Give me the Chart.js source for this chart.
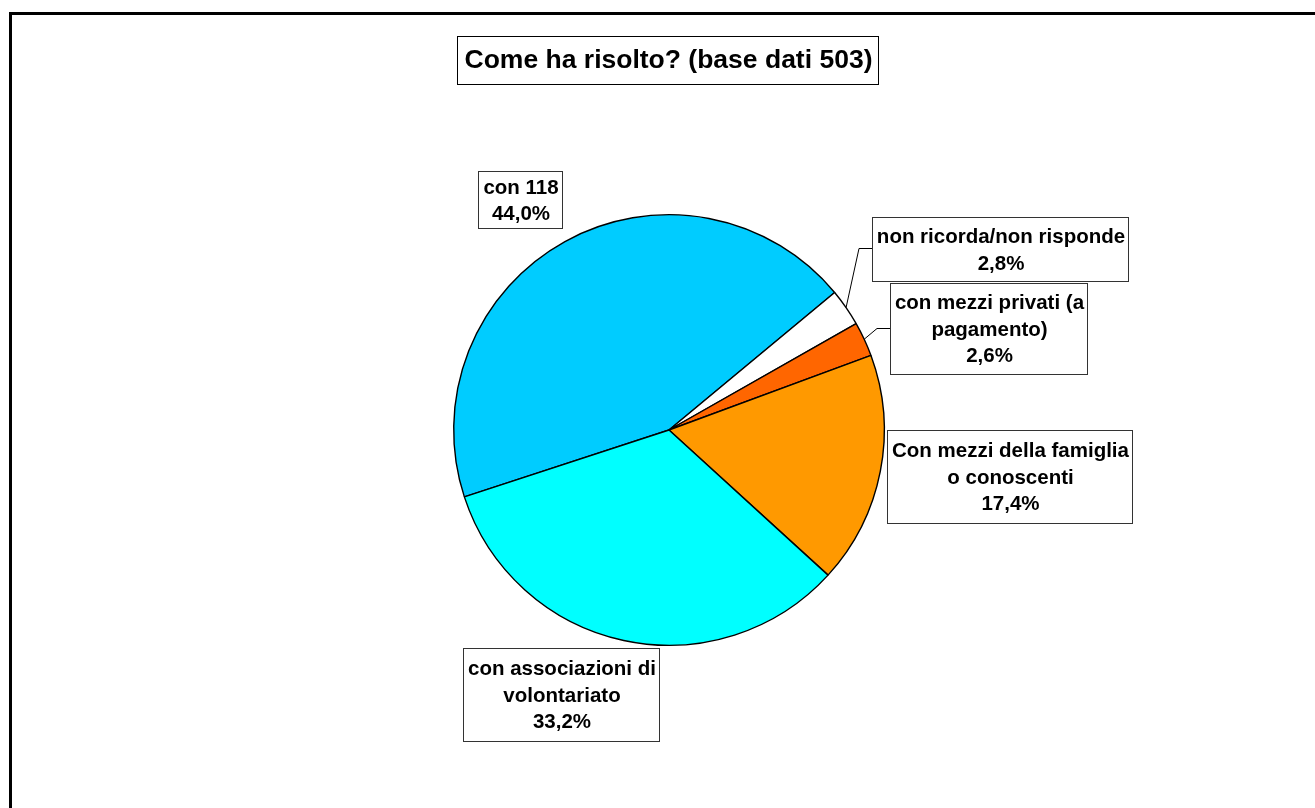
<!DOCTYPE html>
<html>
<head>
<meta charset="utf-8">
<script src="https://cdn.jsdelivr.net/npm/chart.js@4/dist/chart.umd.min.js"></script>
<style>
  html, body { margin: 0; padding: 0; background: #fff; }
  #box { position: relative; width: 1315px; height: 808px; }
</style>
</head>
<body>
<div id="box"><canvas id="grafico" width="1315" height="808"></canvas></div>
<script>
// dati
const titolo = 'Come ha risolto? (base dati 503)';
const categorie = ['con 118', 'non ricorda/non risponde', 'con mezzi privati (a pagamento)', 'Con mezzi della famiglia o conoscenti', 'con associazioni di volontariato'];
const percentuali = [44.0, 2.8, 2.6, 17.4, 33.2];
// righe delle etichette (a capo come nel grafico)
const righeEtichette = [
    ['con 118'],
    ['non ricorda/non risponde'],
    ['con mezzi privati (a', 'pagamento)'],
    ['Con mezzi della famiglia', 'o conoscenti'],
    ['con associazioni di', 'volontariato']
];

const colori = ['#00CCFF', '#FFFFFF', '#FF6600', '#FF9900', '#00FFFF'];

// posizione dei riquadri delle etichette, e se hanno la linea guida
const riquadri = [
    { x: 478, y: 171, w: 84, h: 57, guida: false },
    { x: 872, y: 217, w: 256, h: 64, guida: true },
    { x: 890, y: 283, w: 197, h: 91, guida: true },
    { x: 887, y: 430, w: 245, h: 93, guida: false },
    { x: 463, y: 648, w: 196, h: 93, guida: false }
];
const riquadroTitolo = { x: 457, y: 36, w: 421, h: 48 };

const FONT = '"Liberation Sans", Arial, sans-serif';
const INTERLINEA = 26.6;

function formatta(v) {
    return v.toFixed(1).replace('.', ',') + '%';
}

const cornice = {
    id: 'cornice',
    beforeDraw(chart) {
        const c = chart.ctx;
        c.save();
        c.fillStyle = '#fff';
        c.fillRect(0, 0, chart.width, chart.height);
        c.fillStyle = '#000';
        c.fillRect(9, 12, 3, chart.height);
        c.fillRect(9, 12, chart.width, 3);
        c.restore();
    }
};

const etichette = {
    id: 'etichette',
    afterDraw(chart) {
        const c = chart.ctx;
        const meta = chart.getDatasetMeta(0);
        c.save();

        // titolo
        const t = riquadroTitolo;
        c.fillStyle = '#fff';
        c.fillRect(t.x, t.y, t.w, t.h);
        c.strokeStyle = '#000';
        c.lineWidth = 1;
        c.strokeRect(t.x + 0.5, t.y + 0.5, t.w, t.h);
        c.fillStyle = '#000';
        c.font = 'bold 26.5px ' + FONT;
        c.textAlign = 'center';
        c.textBaseline = 'alphabetic';
        c.fillText(titolo, t.x + t.w / 2 + 1, t.y + t.h / 2 + 8);

        c.font = 'bold 20.5px ' + FONT;
        meta.data.forEach((arc, i) => {
            const r = riquadri[i];
            const righe = righeEtichette[i].concat([formatta(percentuali[i])]);

            if (r.guida) {
                const mid = (arc.startAngle + arc.endAngle) / 2;
                const px = arc.x + Math.cos(mid) * arc.outerRadius;
                const py = arc.y + Math.sin(mid) * arc.outerRadius;
                const gy = Math.round(r.y + r.h / 2) - 0.5;
                c.beginPath();
                c.strokeStyle = '#000';
                c.lineWidth = 1;
                c.moveTo(px, py);
                c.lineTo(r.x - 13, gy);
                c.lineTo(r.x, gy);
                c.stroke();
            }

            c.fillStyle = '#fff';
            c.fillRect(r.x, r.y, r.w, r.h);
            c.strokeStyle = '#333';
            c.lineWidth = 1;
            c.strokeRect(r.x + 0.5, r.y + 0.5, r.w, r.h);

            c.fillStyle = '#000';
            const cy = r.y + r.h / 2 + 7.3;
            righe.forEach((riga, k) => {
                const y = cy + (k - (righe.length - 1) / 2) * INTERLINEA;
                c.fillText(riga, r.x + r.w / 2 + 1, y);
            });
        });
        c.restore();
    }
};

new Chart(document.getElementById('grafico'), {
    type: 'pie',
    data: {
        labels: categorie,
        datasets: [{
            data: percentuali,
            backgroundColor: colori,
            borderColor: '#000',
            borderWidth: 1.4
        }]
    },
    options: {
        responsive: false,
        animation: false,
        rotation: 251.9,
        layout: {
            padding: { left: 453, top: 214, right: 430, bottom: 162 }
        },
        plugins: {
            legend: { display: false },
            tooltip: { enabled: false },
            title: { display: false }
        }
    },
    plugins: [cornice, etichette]
});
</script>
</body>
</html>
